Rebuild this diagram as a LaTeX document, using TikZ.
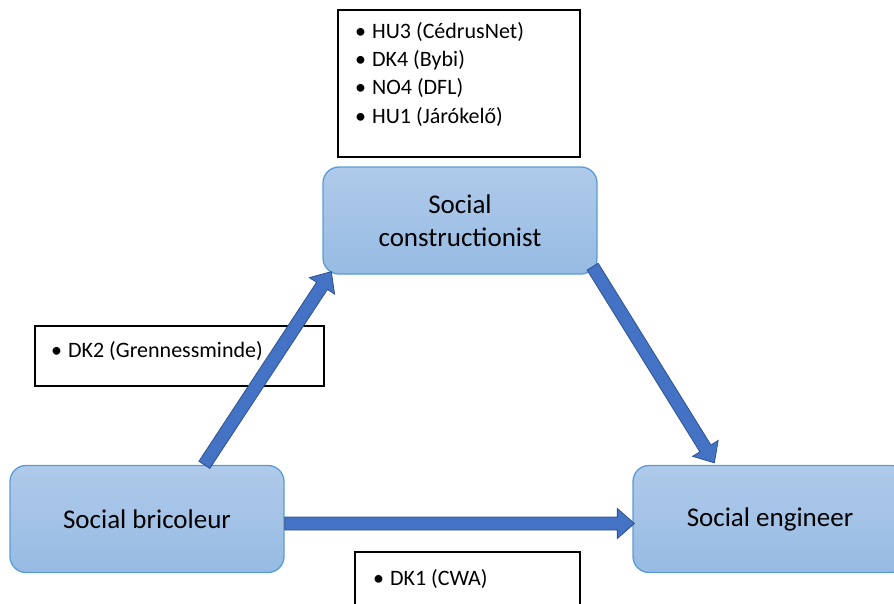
\documentclass[tikz,border=0pt]{standalone}
\usepackage{fontspec}
\setmainfont{Carlito}
\usetikzlibrary{calc}
\definecolor{nodetop}{HTML}{AFCAEA}
\definecolor{nodebot}{HTML}{97BBE3}
\definecolor{nodeline}{HTML}{5B9BD5}
\definecolor{arrfill}{HTML}{4472C4}
\definecolor{arrline}{HTML}{2F528F}
\tikzset{
  stage/.style={rectangle, rounded corners=16pt, top color=nodetop, bottom color=nodebot,
    draw=nodeline, line width=1.3pt, minimum width=274pt, minimum height=107pt,
    font=\fontsize{27}{33}\selectfont, align=center, inner sep=0pt},
  listbox/.style={rectangle, draw=black, line width=1.4pt, fill=white, inner sep=0pt},
  listline/.style={anchor=base west, inner sep=0pt, font=\fontsize{22}{28}\selectfont},
  blockarr/.style={fill=arrfill, draw=arrline, line width=0.8pt, line join=miter},
}
\newcommand\blockarrow[2]{%
  \coordinate (hb) at ($(#2)!17pt!(#1)$);
  \path[blockarr] ($(#1)!6.5pt!-90:(#2)$) -- ($(hb)!6.5pt!90:(#1)$) -- ($(hb)!15pt!90:(#1)$)
    -- (#2) -- ($(hb)!15pt!-90:(#1)$) -- ($(hb)!6.5pt!-90:(#1)$) -- ($(#1)!6.5pt!90:(#2)$) -- cycle;}
\begin{document}
\begin{tikzpicture}[x=1pt,y=1pt]
\useasboundingbox (0,0) rectangle (894,-603);
\clip (0,0) rectangle (894,-603);
% list boxes
\node[listbox, minimum width=242pt, minimum height=147pt] (boxtop) at (459,-83.5) {};
\node[listline] (l1) at (355,-38) {•\hspace{6pt}HU3 (CédrusNet)};
\node[listline] (l2) at (355,-66.3) {•\hspace{6pt}DK4 (Bybi)};
\node[listline] (l3) at (355,-94.7) {•\hspace{6pt}NO4 (DFL)};
\node[listline] (l4) at (355,-123) {•\hspace{6pt}HU1 (Járókelő)};
\node[listbox, minimum width=289pt, minimum height=60pt] (boxdk2) at (179.5,-356) {};
\node[listline] (l5) at (51,-357) {•\hspace{6pt}DK2 (Grennessminde)};
\node[listbox, minimum width=225pt, minimum height=76pt] (boxdk1) at (467.5,-590) {};
\node[listline] (l6) at (373,-585) {•\hspace{6pt}DK1 (CWA)};
% stages
\node[stage] (cons) at (460,-220.5) {Social\\constructionist};
\node[stage] (bric) at (147,-519) {Social bricoleur};
\node[stage] (eng) at (770,-519) {Social engineer};
% arrow ends
\coordinate (a1s) at ($(bric.north west)+(195,0)$);
\coordinate (a1e) at ($(cons.south west)+(9,3)$);
\coordinate (a2s) at ($(cons.south east)+(-5,8)$);
\coordinate (a2e) at ($(eng.north west)+(82,2)$);
\coordinate (a3s) at ($(bric.east)+(0,-4.5)$);
\coordinate (a3e) at ($(eng.west)+(2,-4.5)$);
\blockarrow{a1s}{a1e}
\blockarrow{a2s}{a2e}
\blockarrow{a3s}{a3e}
\end{tikzpicture}
\end{document}
